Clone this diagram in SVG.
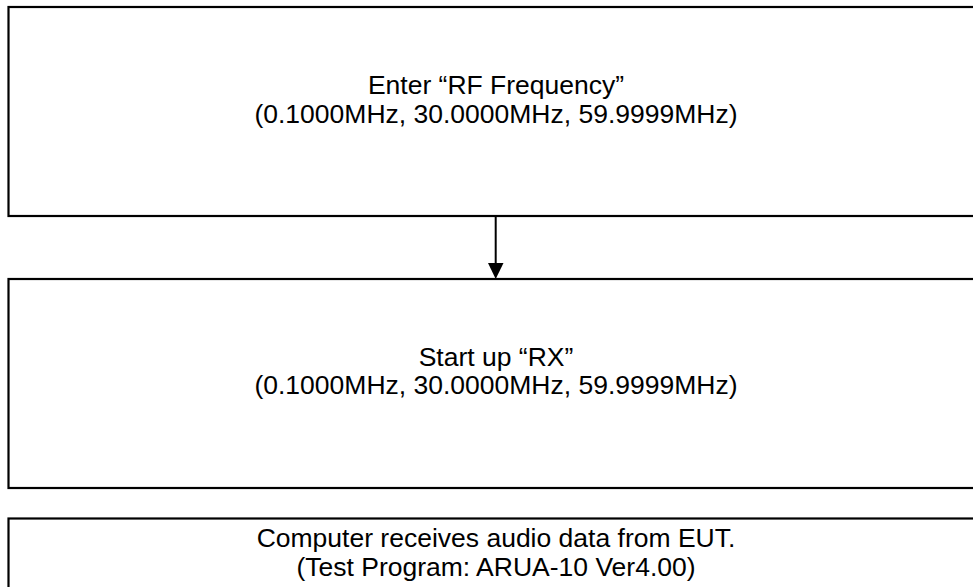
<svg xmlns="http://www.w3.org/2000/svg" width="973" height="587" viewBox="0 0 973 587">
<defs>
<style>
.box{fill:#fff;stroke:#000;stroke-width:2.2}
.t{font-family:"Liberation Sans",Arial,sans-serif;font-size:26.5px;fill:#000;text-anchor:middle}
.c{stroke:#000;stroke-width:2;fill:none}
</style>
</defs>
<rect width="973" height="587" fill="#fff"/>
<g id="node1">
<rect class="box" x="8.5" y="7" width="980" height="209"/>
<text class="t" x="496" y="94">Enter “RF Frequency”</text>
<text class="t" x="496" y="122.5">(0.1000MHz, 30.0000MHz, 59.9999MHz)</text>
</g>
<g id="node2">
<rect class="box" x="8.5" y="279" width="980" height="209"/>
<text class="t" x="496" y="365.5">Start up “RX”</text>
<text class="t" x="496" y="394">(0.1000MHz, 30.0000MHz, 59.9999MHz)</text>
</g>
<g id="node3">
<rect class="box" x="8.5" y="518.5" width="980" height="100"/>
<text class="t" x="496" y="547">Computer receives audio data from EUT.</text>
<text class="t" x="496" y="575.5">(Test Program: ARUA-10 Ver4.00)</text>
</g>
<g id="connectors">
<line class="c" x1="495.7" y1="216" x2="495.7" y2="264"/>
<path d="M488,263 L503.5,263 L495.7,279 Z" fill="#000"/>
</g>
</svg>
